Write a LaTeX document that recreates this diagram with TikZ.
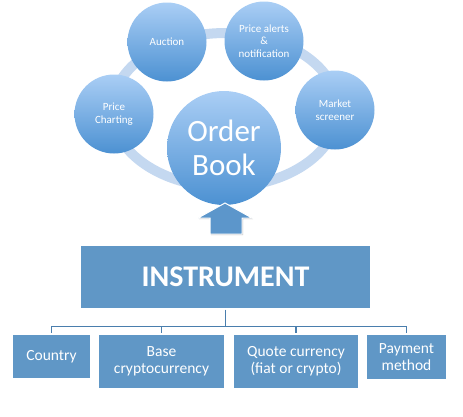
\documentclass[tikz,border=0pt]{standalone}
\usepackage{fontspec}
\setmainfont{Carlito}
\usetikzlibrary{shadows,positioning}
\definecolor{ctop}{RGB}{170,206,245}
\definecolor{cbot}{RGB}{76,145,210}
\definecolor{ringc}{RGB}{196,216,240}
\definecolor{boxc}{RGB}{96,151,198}
\definecolor{linec}{RGB}{74,126,173}
\definecolor{arrowc}{RGB}{92,150,203}
\tikzset{
  bubble/.style={circle, draw=none, top color=ctop, bottom color=cbot, shading angle=0,
    text=white, align=center, inner sep=0pt, minimum size=#1},
  bubble/.default=79pt,
  smalltxt/.style={font=\fontsize{11}{12.5}\selectfont},
  box/.style={rectangle, fill=boxc, draw=white, line width=1.2pt, text=white, align=center,
    inner sep=0pt, drop shadow={opacity=0.3, shadow xshift=1pt, shadow yshift=-1.2pt}},
  boxtxt/.style={font=\fontsize{15.5}{17}\selectfont},
  conn/.style={draw=linec, line width=1.4pt},
}
\begin{document}
\begin{tikzpicture}[x=1pt,y=-1pt]
\useasboundingbox (0,0) rectangle (463,416);
% ring
\draw[ringc, line width=10pt] (225,110) ellipse [x radius=113, y radius=77];
% bubbles
\node[bubble, smalltxt] (auction) at (167,42) {Auction};
\node[bubble, smalltxt] (alerts) at (264,41) {Price alerts\\\&\\notification};
\node[bubble, smalltxt] (charting) at (114,114) {Price\\Charting};
\node[bubble, smalltxt] (screener) at (335,110) {Market\\screener};
\node[bubble=114pt, font=\fontsize{31}{34}\selectfont] (book) at (224,148) {Order\\Book};
% arrow
\fill[black, opacity=0.25] (211,219) -- (199,219) -- (226,204) -- (253,219) -- (243,219) -- (243,235) -- (211,235) -- cycle;
\filldraw[fill=arrowc, draw=white, line width=1pt] (210,218) -- (198,218) -- (225,203) -- (252,218) -- (242,218) -- (242,234) -- (210,234) -- cycle;
% boxes
\node[box, minimum width=291pt, minimum height=64pt, font=\fontsize{30}{32}\selectfont\bfseries] (inst) at (225.5,277) {INSTRUMENT};
\node[box, boxtxt, minimum width=79pt, minimum height=45pt] (country) at (51.5,356.5) {Country};
\node[box, boxtxt, minimum width=127pt, minimum height=55pt] (base) at (161.5,361.5) {Base\\cryptocurrency};
\node[box, boxtxt, minimum width=126pt, minimum height=55pt] (quote) at (296,361.5) {Quote currency\\(fiat or crypto)};
\node[box, boxtxt, minimum width=81pt, minimum height=46pt] (payment) at (406.5,357) {Payment\\method};
% tree connectors
\coordinate (bar) at ([yshift=-17pt]inst.south);
\draw[conn] (inst.south) -- (bar);
\draw[conn] (bar) -| (country.north);
\draw[conn] (bar) -| (base.north);
\draw[conn] (bar) -| (quote.north);
\draw[conn] (bar) -| (payment.north);
\end{tikzpicture}
\end{document}
